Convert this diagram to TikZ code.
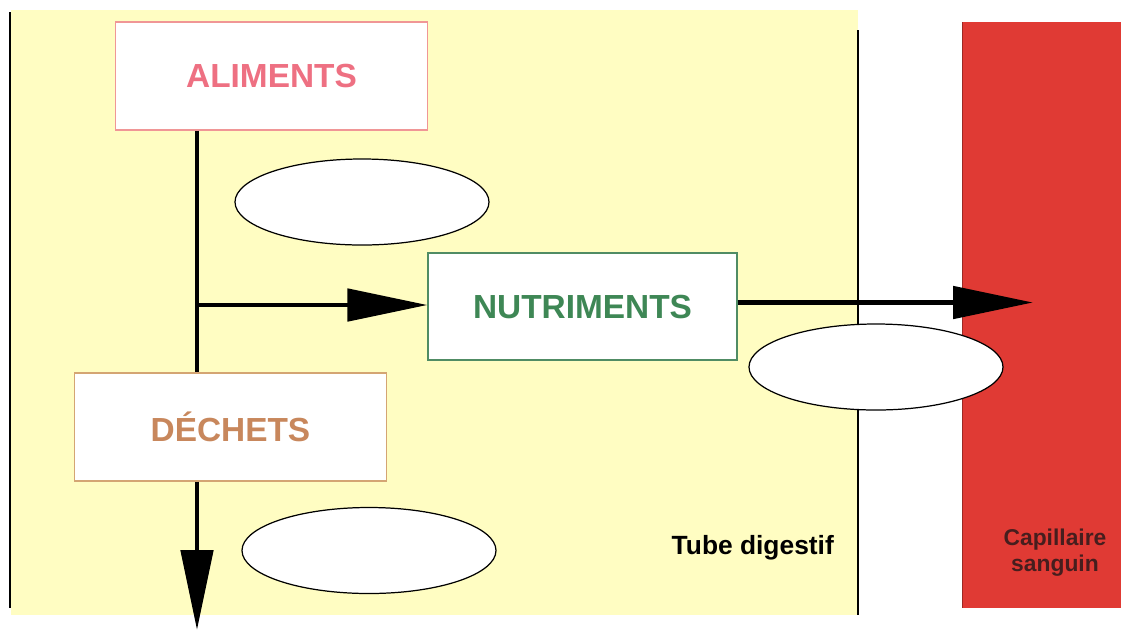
\documentclass[tikz,border=0pt]{standalone}
\usepackage{fontspec}
\setmainfont{Liberation Sans}
\usepackage{tikz}
\usetikzlibrary{arrows.meta,shapes.geometric}
\definecolor{tubefond}{RGB}{255,253,194}
\definecolor{sang}{RGB}{224,58,52}
\definecolor{rose}{RGB}{238,112,130}
\definecolor{rosebord}{RGB}{240,150,150}
\definecolor{vert}{RGB}{62,135,85}
\definecolor{vertbord}{RGB}{80,140,100}
\definecolor{brun}{RGB}{200,135,92}
\definecolor{brunbord}{RGB}{212,165,115}
\definecolor{sombre}{RGB}{70,30,30}

\begin{document}
\begin{tikzpicture}[
  box/.style={draw, fill=white, line width=0.6pt, minimum width=6.24cm, minimum height=2.16cm, inner sep=0pt,
              font=\fontsize{19}{22}\selectfont\bfseries},
  bulle/.style={draw, ellipse, fill=white, line width=0.7pt, minimum width=5.08cm, minimum height=1.72cm, inner sep=0pt},
  fl/.style={line width=2.8pt, -{Triangle[length=1.6cm, width=0.64cm]}},
  trait/.style={line width=2.8pt},
  lab/.style={font=\bfseries, align=center}
]
\useasboundingbox (0,0) rectangle (22.42,-12.6);
% fonds
\fill[tubefond] (0.22,-0.2) rectangle (17.16,-12.3);
\draw[line width=0.6pt] (0.2,-0.24) -- (0.2,-12.16);
\draw[line width=0.6pt] (17.16,-0.6) -- (17.16,-12.3);
\fill[sang] (19.24,-0.44) rectangle (22.42,-12.16);
\draw[sang!70!black, line width=0.5pt] (19.24,-0.44) -- (19.24,-12.16);

\node[box, draw=rosebord, text=rose] (alim) at (5.43,-1.52) {ALIMENTS};
\node[box, draw=vertbord, text=vert, minimum width=6.18cm, minimum height=2.14cm] (nutri) at (11.65,-6.13) {NUTRIMENTS};
\node[box, draw=brunbord, text=brun] (dech) at (4.61,-8.54) {DÉCHETS};

\coordinate (haut) at (alim.south -| 3.94,0);
\coordinate (jonction) at (3.94,-6.1);
\coordinate (milieu) at (dech.north -| 3.94,0);
\coordinate (sortie) at (dech.south -| 3.94,0);
\coordinate (bas) at (3.94,-12.6);
\coordinate (capil) at (20.66,-6.05);

\draw[trait] (haut) -- (milieu);
\draw[fl] (jonction) -- (jonction -| nutri.west);
\draw[fl] (sortie) -- (bas);
\draw[fl] (nutri.east |- 0,-6.05) -- (capil);

\node[bulle] (e1) at (7.24,-4.04) {};
\node[bulle] (e2) at (17.52,-7.34) {};
\node[bulle] (e3) at (7.38,-11.01) {};

\node[lab, font=\fontsize{15}{17}\selectfont\bfseries, anchor=east] (tube) at (16.8,-10.96) {Tube digestif};
\node[lab, font=\fontsize{13}{14.5}\selectfont\bfseries, text=sombre] (sanguin) at (21.1,-11.05) {Capillaire\\sanguin};
\end{tikzpicture}
\end{document}
